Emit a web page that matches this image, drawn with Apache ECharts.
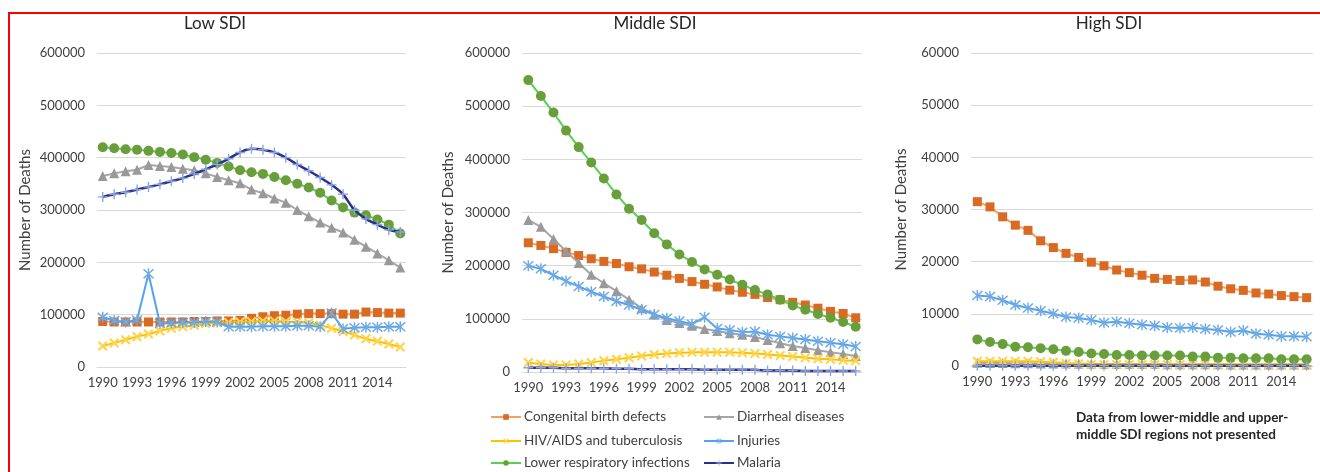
<!DOCTYPE html>
<html>
<head>
<meta charset="utf-8">
<script src="https://cdn.jsdelivr.net/npm/echarts@6/dist/echarts.min.js"></script>
<style>
html,body{margin:0;padding:0;background:#fff;}
#chart{width:1320px;height:472px;}
</style>
</head>
<body>
<div id="chart"></div>
<script>
// ---------- DATA ----------
const years = ['1990','1991','1992','1993','1994','1995','1996','1997','1998','1999','2000','2001','2002','2003','2004','2005','2006','2007','2008','2009','2010','2011','2012','2013','2014','2015','2016'];

const seriesNames = ['Congenital birth defects','Diarrheal diseases','HIV/AIDS and tuberculosis','Injuries','Lower respiratory infections','Malaria'];
const panelTitles = ['Low SDI','Middle SDI','High SDI'];
const noteLines = ['Data from lower-middle and upper-','middle SDI regions not presented'];

// Low SDI
const lowCongenital = [87000,86000,86000,86000,86000,86000,86000,86000,87000,87000,88000,88000,89000,93000,96000,98000,99000,101000,102000,102000,102000,101000,101000,105000,104000,103000,103000];
const lowDiarrheal  = [365000,370000,374000,377000,386000,384000,382000,379000,376000,370000,363000,357000,351000,339000,332000,322000,314000,300000,288000,276000,266000,257000,243000,230000,217000,204000,190000];
const lowHiv        = [40000,46000,52000,58000,63000,69000,74000,77000,80000,83000,84000,85000,86000,87000,88000,88000,87000,86000,84000,80000,74000,68000,61000,54000,49000,44000,38000];
const lowInjuries   = [95000,89000,86000,90000,178000,83000,84000,85000,85000,87000,86000,77000,77000,77000,78000,78000,78000,79000,79000,77000,103000,73000,75000,76000,76000,77000,77000];
const lowLri        = [420000,418000,416000,415000,413000,411000,409000,406000,401000,396000,390000,383000,376000,372000,369000,363000,357000,350000,343000,333000,318000,305000,295000,290000,282000,272000,255000];
const lowMalaria    = [325000,330000,334000,339000,344000,349000,355000,361000,369000,378000,387000,398000,410000,417000,415000,410000,400000,387000,375000,362000,348000,330000,300000,283000,272000,262000,258000];

// Middle SDI
const midCongenital = [243000,238000,232000,225000,219000,213000,208000,204000,198000,194000,188000,182000,176000,170000,165000,160000,154000,150000,146000,140000,136000,131000,126000,120000,114000,110000,102000];
const midDiarrheal  = [286000,273000,250000,227000,205000,183000,167000,152000,136000,120000,108000,98000,92000,87000,81000,77000,73000,70000,66000,60000,54000,49000,45000,41000,37000,34000,30000];
const midHiv        = [18000,15000,13000,13000,15000,18000,21000,24000,27000,30000,33000,35000,36000,37000,37000,37000,37000,36000,35000,33000,31000,29000,27000,25000,24000,22000,21000];
const midInjuries   = [200000,194000,182000,171000,161000,151000,142000,133000,126000,117000,108000,101000,96000,90000,103000,82000,79000,75000,76000,70000,67000,64000,61000,58000,55000,52000,48000];
const midLri        = [549000,519000,488000,454000,423000,394000,364000,334000,307000,286000,261000,240000,221000,207000,193000,183000,174000,164000,154000,146000,136000,125000,117000,109000,102000,94000,85000];
const midMalaria    = [8000,8000,8000,7000,7000,7000,7000,6000,6000,5000,5000,5000,5000,5000,4000,4000,4000,4000,4000,3000,3000,3000,2000,2000,2000,2000,2000];

// High SDI
const highCongenital = [31500,30500,28600,27000,26000,24000,22700,21600,20800,19900,19200,18400,17900,17400,16800,16600,16400,16500,16100,15300,14800,14500,14000,13800,13500,13300,13100];
const highDiarrheal  = [600,580,560,540,520,500,480,460,440,420,400,390,380,370,360,350,340,330,320,320,310,310,300,300,300,290,290];
const highHiv        = [900,900,900,900,900,800,700,500,400,300,300,300,300,300,300,300,300,300,300,300,300,300,300,300,300,300,300];
const highInjuries   = [13500,13300,12600,11700,11100,10600,10000,9400,9200,8800,8300,8500,8200,7900,7700,7400,7300,7400,7100,6900,6500,6800,6200,6000,5700,5700,5600];
const highLri        = [5100,4600,4200,3700,3600,3400,3200,2900,2700,2400,2300,2100,2100,2000,2000,2000,2000,1800,1800,1600,1600,1500,1500,1500,1300,1300,1300];
const highMalaria    = [40,40,40,40,40,40,40,40,40,40,40,40,40,40,40,40,40,40,40,40,40,40,40,40,40,40,40];

const panels = [
  [lowCongenital, lowDiarrheal, lowHiv, lowInjuries, lowLri, lowMalaria],
  [midCongenital, midDiarrheal, midHiv, midInjuries, midLri, midMalaria],
  [highCongenital, highDiarrheal, highHiv, highInjuries, highLri, highMalaria]
];
const yMax = [600000, 600000, 60000];
const yStep = [100000, 100000, 10000];

// ---------- STYLE ----------
const FONT = 'Lato';
const TXT = '#404040';
const xPath = 'path://M0,1.5 L1.5,0 L5,3.5 L8.5,0 L10,1.5 L6.5,5 L10,8.5 L8.5,10 L5,6.5 L1.5,10 L0,8.5 L3.5,5 Z';
const starPath = 'path://M0,1 L1,0 L5,4 L9,0 L10,1 L6,5 L10,9 L9,10 L5,6 L1,10 L0,9 L4,5 Z M4.35,-0.5 L5.65,-0.5 L5.65,10.5 L4.35,10.5 Z';
const plusPath = 'path://M4.3,0 L5.7,0 L5.7,4.3 L10,4.3 L10,5.7 L5.7,5.7 L5.7,10 L4.3,10 L4.3,5.7 L0,5.7 L0,4.3 L4.3,4.3 Z';

const styles = [
  {line:'#F4A15D', marker:'#D86A24', symbol:'rect', size:9, smooth:false},
  {line:'#A6A6A6', marker:'#999999', symbol:'triangle', size:10, smooth:false},
  {line:'#FFC000', marker:'#FFD448', symbol:xPath, size:10, smooth:true},
  {line:'#55A3EE', marker:'#6FAAE4', symbol:starPath, size:11, smooth:false},
  {line:'#52D352', marker:'#6A9E3B', symbol:'circle', size:10, smooth:false},
  {line:'#2A2E8C', marker:'#8AA6E0', symbol:plusPath, size:10, smooth:true}
];

const grids = [
  {left:97, top:53, width:309, height:314},
  {left:522, top:53, width:340, height:319},
  {left:971, top:53, width:342, height:313}
];
const nameGaps = [64, 66, 62];

const xAxes = grids.map((g, i) => ({
  type:'category', gridIndex:i, data:years, boundaryGap:true,
  axisLine:{show:true, lineStyle:{color:'#D9D9D9', width:1}},
  axisTick:{show:false},
  axisLabel:{interval:2, color:TXT, fontSize:13, fontFamily:FONT, margin:9}
}));
const yAxes = grids.map((g, i) => ({
  type:'value', gridIndex:i, min:0, max:yMax[i], interval:yStep[i],
  name:'Number of Deaths', nameLocation:'middle', nameGap:nameGaps[i],
  nameTextStyle:{color:TXT, fontSize:15, fontFamily:FONT},
  axisLine:{show:false}, axisTick:{show:false},
  axisLabel:{color:TXT, fontSize:13, fontFamily:FONT, margin:12, formatter:(v) => String(v)},
  splitLine:{lineStyle:{color:'#D9D9D9', width:1}}
}));

const series = [];
panels.forEach((arrs, p) => {
  arrs.forEach((data, k) => {
    const s = styles[k];
    series.push({
      type:'line', name:seriesNames[k], xAxisIndex:p, yAxisIndex:p, data:data,
      symbol:s.symbol, symbolSize:s.size, showAllSymbol:true, smooth:s.smooth ? 0.35 : false,
      lineStyle:{color:s.line, width: k===5 ? 2.5 : 2},
      itemStyle:{color:s.marker, borderColor:s.marker, borderWidth:0},
      emphasis:{disabled:true}, animation:false, z: 2 + k
    });
  });
});

const titleCenters = [215, 655, 1109];
const graphics = [
  {type:'line', shape:{x1:8, y1:13, x2:1320, y2:13}, style:{stroke:'#FF0000', lineWidth:2}},
  {type:'line', shape:{x1:9, y1:12, x2:9, y2:472}, style:{stroke:'#FF0000', lineWidth:2}}
];
panelTitles.forEach((t, i) => {
  graphics.push({type:'text', x:titleCenters[i], y:24, style:{text:t, font:'17px ' + FONT, fill:'#262626', textAlign:'center', textVerticalAlign:'middle'}});
});
noteLines.forEach((t, i) => {
  graphics.push({type:'text', x:1076, y:418 + i*17, style:{text:t, font:'bold 13.5px ' + FONT, fill:'#262626', textAlign:'left', textVerticalAlign:'middle'}});
});

// legend: 2 columns x 3 rows
const legendCols = [490, 703];
const legendRows = [418, 442, 464];
const legendOrder = [[0,1],[2,3],[4,5]];
const legends = [];
legendOrder.forEach((row, r) => {
  row.forEach((k, c) => {
    legends.push({
      orient:'horizontal', left:legendCols[c], top:legendRows[r] - 8, height:16,
      itemWidth:30, itemHeight:7, padding:0,
      data:[seriesNames[k]],
      textStyle:{color:TXT, fontSize:13.5, fontFamily:FONT, padding:[0,0,0,-2]}, selectedMode:false
    });
  });
});

const chart = echarts.init(document.getElementById('chart'), null, {renderer:'canvas'});
chart.setOption({
  animation:false,
  backgroundColor:'#ffffff',
  grid:grids,
  xAxis:xAxes,
  yAxis:yAxes,
  legend:legends,
  graphic:graphics,
  series:series
});
</script>
</body>
</html>
